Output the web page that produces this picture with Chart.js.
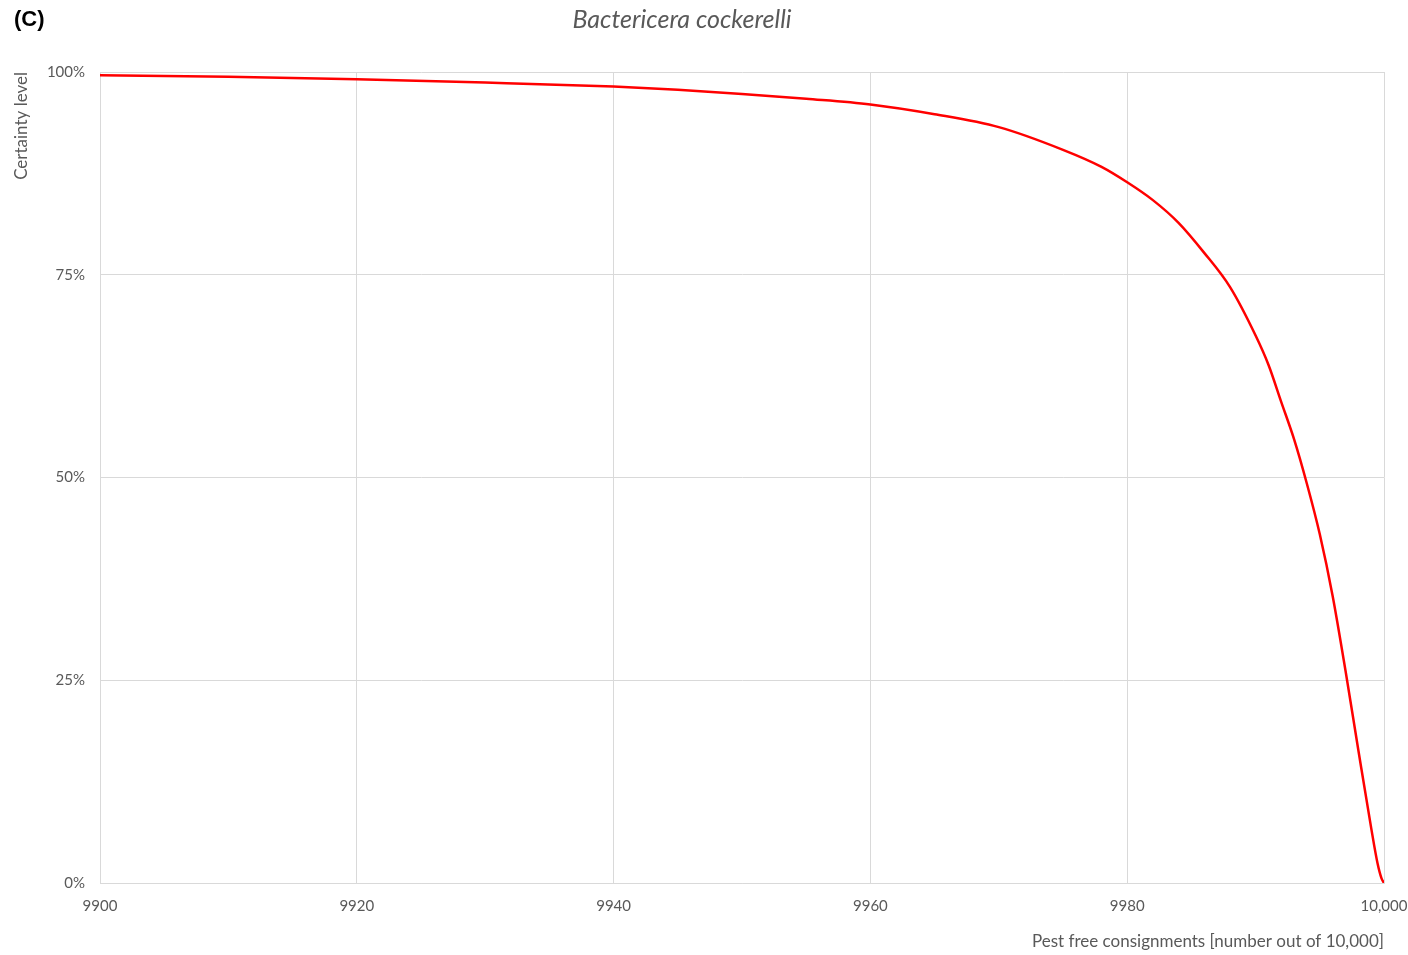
<!DOCTYPE html>
<html>
<head>
<meta charset="utf-8">
<title>Bactericera cockerelli</title>
<script src="https://cdn.jsdelivr.net/npm/chart.js@4.4.1/dist/chart.umd.min.js"></script>
<style>
  html, body { margin: 0; padding: 0; background: #fff; }
  #wrap { position: relative; width: 1408px; height: 955px; }
  #panel {
    position: absolute; left: 14px; top: 6px;
    font: bold 22px "Liberation Sans", Arial, sans-serif; color: #000;
  }
  #titulo {
    position: absolute; left: 482px; width: 400px; top: 3px; text-align: center;
    font: italic 25px Lato, "Open Sans", sans-serif; color: #595959;
  }
</style>
</head>
<body>
<div id="wrap">
  <canvas id="chartCurva" width="1408" height="955"></canvas>
  <div id="panel">(C)</div>
  <div id="titulo">Bactericera cockerelli</div>
</div>
<script>
// ===== DADOS =====
const consignments = [9900, 9910, 9920, 9930, 9940, 9945, 9950, 9955, 9960, 9965,
                      9970, 9975, 9978, 9980, 9982, 9984, 9986, 9988, 9990, 9991,
                      9992, 9993, 9994, 9995, 9996, 9997, 9998, 9999, 9999.5, 9999.8, 10000];
const certainty = [99.6, 99.4, 99.1, 98.7, 98.2, 97.8, 97.3, 96.7, 96.0, 94.8,
                   93.2, 90.4, 88.3, 86.4, 84.2, 81.4, 77.7, 73.5, 67.5, 63.9,
                   59.3, 54.7, 49.2, 43.0, 35.4, 26.2, 16.4, 6.8, 2.4, 0.6, 0];
const yTicks = [0, 25, 50, 75, 100];
const xTicks = [9900, 9920, 9940, 9960, 9980, 10000];

const FONTE = 'Lato, "Open Sans", sans-serif';
const CINZA = '#595959';
const GRADE = '#d9d9d9';

document.addEventListener('DOMContentLoaded', function() {
    const ctx = document.getElementById('chartCurva').getContext('2d');
    new Chart(ctx, {
        type: 'line',
        data: {
            datasets: [{
                label: 'Bactericera cockerelli',
                data: consignments.map((x, i) => ({ x: x, y: certainty[i] })),
                borderColor: '#ff0000',
                borderWidth: 2.5,
                pointRadius: 0,
                fill: false,
                cubicInterpolationMode: 'monotone'
            }]
        },
        options: {
            responsive: false,
            animation: false,
            layout: { padding: { top: 72, right: 24, bottom: 0, left: 0 } },
            plugins: {
                legend: { display: false },
                tooltip: { enabled: false },
                title: { display: false }
            },
            scales: {
                x: {
                    type: 'linear',
                    min: 9900,
                    max: 10000,
                    afterBuildTicks: s => { s.ticks = xTicks.map(v => ({ value: v })); },
                    afterFit: s => {
                        s.height = 72;
                        s.paddingRight = 0;
                        s.paddingLeft = 0;
                    },
                    ticks: {
                        color: CINZA,
                        padding: 14,
                        maxRotation: 0,
                        autoSkip: false,
                        font: { family: FONTE, size: 15 },
                        callback: v => v >= 10000 ? v.toLocaleString('en-US') : String(v)
                    },
                    grid: { color: GRADE, drawTicks: false },
                    border: { color: GRADE },
                    title: {
                        display: true,
                        align: 'end',
                        text: 'Pest free consignments [number out of 10,000]',
                        color: CINZA,
                        font: { family: FONTE, size: 17 },
                        padding: { top: 0, bottom: 3 }
                    }
                },
                y: {
                    min: 0,
                    max: 100,
                    afterBuildTicks: s => { s.ticks = yTicks.map(v => ({ value: v })); },
                    afterFit: s => {
                        s.width = 100;
                        s.paddingTop = 0;
                        s.paddingBottom = 0;
                    },
                    ticks: {
                        color: CINZA,
                        padding: 15,
                        font: { family: FONTE, size: 15 },
                        callback: v => v + '%'
                    },
                    grid: { color: GRADE, drawTicks: false },
                    border: { color: GRADE },
                    title: {
                        display: true,
                        align: 'end',
                        text: 'Certainty level',
                        color: CINZA,
                        font: { family: FONTE, size: 17 },
                        padding: { top: 11, bottom: 0 }
                    }
                }
            }
        }
    });
});
</script>
</body>
</html>
